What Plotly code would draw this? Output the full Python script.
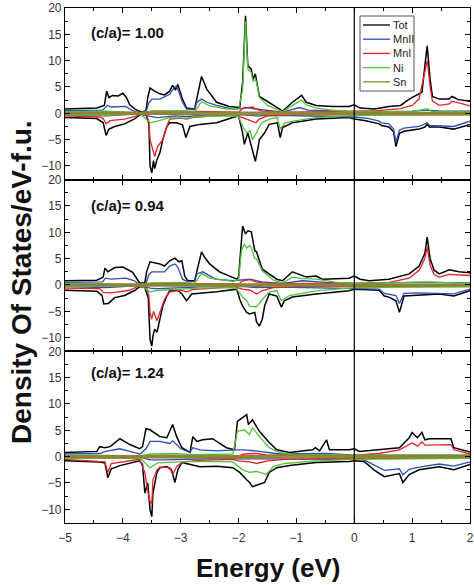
import plotly.graph_objects as go
from plotly.subplots import make_subplots

# ---------------- data (Energy eV, DOS states/eV-f.u.) ----------------
PANEL_LABELS = ["(c/a)= 1.00", "(c/a)= 0.94", "(c/a)= 1.24"]
SPECIES = ["Tot", "MnII", "MnI", "Ni", "Sn"]
COLORS = ["#000000", "#2a4fb5", "#e8202a", "#52c23c", "#8f8434"]
X_TICKS = [-5, -4, -3, -2, -1, 0, 1, 2]
Y_TICKS = [-10, -5, 0, 5, 10, 15, 20]

# ---- panel A : c/a = 1.00 ----
TOT_UP_A = [(-5,0.8),(-4.45,1.0),(-4.32,1.5),(-4.28,4.2),(-4.24,3.0),(-4.18,3.4),(-4.08,3.3),(-4.0,3.8),(-3.94,3.0),(-3.88,1.6),(-3.79,0.8),(-3.68,0.2),(-3.6,0.5),(-3.57,3.0),(-3.53,4.8),(-3.45,4.2),(-3.36,3.7),(-3.28,3.5),(-3.19,4.2),(-3.14,5.3),(-3.09,4.4),(-3.05,5.5),(-2.97,2.7),(-2.9,1.0),(-2.76,0.8),(-2.72,2.7),(-2.64,7.0),(-2.55,4.6),(-2.38,2.1),(-2.16,1.3),(-1.98,1.1),(-1.93,5.9),(-1.88,18.5),(-1.84,9.0),(-1.78,8.4),(-1.75,6.5),(-1.71,7.5),(-1.64,3.2),(-1.47,2.1),(-1.29,0.8),(-1.24,0.4),(-1.07,2.1),(-0.91,3.4),(-0.83,2.1),(-0.66,1.5),(-0.38,1.3),(-0.09,1.3),(0.0,1.6),(0.1,1.0),(0.35,0.8),(0.6,1.3),(0.8,1.5),(0.95,2.7),(1.12,3.6),(1.17,4.0),(1.22,9.0),(1.26,12.8),(1.31,6.5),(1.35,3.2),(1.47,2.7),(1.64,2.7),(1.69,3.2),(1.8,2.6),(2.0,2.3)]
TOT_DN_A = [(-5,-0.8),(-4.45,-1.0),(-4.34,-1.8),(-4.29,-4.2),(-4.24,-3.0),(-4.14,-2.5),(-3.97,-2.0),(-3.79,-1.0),(-3.7,-0.2),(-3.6,-0.3),(-3.55,-2.0),(-3.53,-10.0),(-3.5,-11.3),(-3.47,-9.0),(-3.45,-10.5),(-3.41,-8.8),(-3.36,-7.5),(-3.31,-5.0),(-3.24,-2.5),(-3.19,-1.8),(-3.07,-1.8),(-2.97,-2.2),(-2.91,-4.6),(-2.84,-2.5),(-2.67,-2.1),(-2.38,-1.8),(-2.1,-0.8),(-2.0,-0.5),(-1.93,-3.7),(-1.9,-5.9),(-1.84,-3.7),(-1.81,-5.0),(-1.76,-7.5),(-1.71,-9.1),(-1.67,-6.9),(-1.64,-5.0),(-1.55,-3.7),(-1.47,-2.1),(-1.33,-1.8),(-1.28,-4.6),(-1.24,-2.7),(-1.07,-1.8),(-0.66,-1.1),(-0.09,-0.8),(0.0,-1.1),(0.2,-1.4),(0.43,-2.0),(0.47,-2.3),(0.6,-2.6),(0.68,-3.5),(0.72,-6.3),(0.78,-3.8),(0.86,-3.4),(1.12,-3.0),(1.22,-2.6),(1.26,-2.1),(1.3,-2.6),(1.47,-2.6),(1.72,-3.0),(2.0,-2.1)]
MN2_UP_A = [(-5,0.5),(-4.35,0.6),(-4.27,1.5),(-4.2,1.2),(-3.95,1.3),(-3.85,0.6),(-3.7,0.0),(-3.6,0.3),(-3.55,2.0),(-3.5,2.7),(-3.36,2.7),(-3.19,3.6),(-3.1,5.1),(-3.05,4.6),(-2.97,2.1),(-2.9,0.8),(-2.76,0.8),(-2.72,2.1),(-2.64,2.7),(-2.55,2.1),(-2.38,1.5),(-2.1,0.8),(-1.95,0.9),(-1.88,1.1),(-1.75,0.9),(-1.5,0.5),(-1.25,0.2),(-0.95,1.1),(-0.8,0.6),(-0.3,0.4),(0.0,0.3),(0.5,0.3),(1.0,0.4),(1.26,0.6),(1.5,0.4),(2.0,0.4)]
MN2_DN_A = [(-5,-0.3),(-4.3,-0.5),(-3.7,-0.1),(-3.53,-0.6),(-3.4,-0.8),(-3.1,-0.5),(-2.9,-0.6),(-2.5,-0.3),(-1.9,-0.3),(-1.7,-0.5),(-1.3,-0.4),(-0.5,-0.5),(0.0,-0.7),(0.26,-1.0),(0.43,-1.5),(0.47,-1.8),(0.6,-2.0),(0.68,-3.0),(0.72,-5.5),(0.78,-3.2),(0.86,-2.8),(1.12,-2.5),(1.26,-1.8),(1.3,-2.3),(1.72,-2.5),(2.0,-1.5)]
MN1_UP_A = [(-5,0.2),(-4.3,0.3),(-3.7,0.1),(-3.5,0.4),(-3.0,0.4),(-2.7,0.3),(-2.0,0.2),(-1.93,0.9),(-1.85,1.1),(-1.75,1.2),(-1.7,0.8),(-1.6,0.4),(-1.2,0.2),(-0.5,0.3),(0.0,0.4),(0.4,0.5),(0.8,0.9),(1.0,1.5),(1.12,2.7),(1.22,7.8),(1.26,10.0),(1.31,5.1),(1.35,2.3),(1.47,1.5),(1.64,1.8),(1.69,2.3),(2.0,1.4)]
MN1_DN_A = [(-5,-0.5),(-4.4,-0.7),(-4.34,-1.0),(-4.29,-2.0),(-4.22,-1.4),(-3.97,-1.1),(-3.79,-0.6),(-3.7,-0.1),(-3.6,-0.2),(-3.55,-1.5),(-3.53,-5.0),(-3.5,-6.3),(-3.45,-8.2),(-3.4,-6.3),(-3.31,-5.0),(-3.24,-2.5),(-3.19,-1.1),(-3.0,-0.9),(-2.9,-1.1),(-2.8,-0.8),(-2.3,-0.4),(-2.1,-0.2),(-1.86,-1.1),(-1.7,-1.8),(-1.64,-1.1),(-1.5,-0.5),(-1.0,-0.3),(0.0,-0.3),(2.0,-0.3)]
NI_UP_A = [(-5,0.3),(-4.3,0.4),(-3.7,0.1),(-3.5,0.4),(-3.0,0.5),(-2.76,0.3),(-2.64,2.2),(-2.5,1.4),(-2.2,0.8),(-2.0,0.8),(-1.93,4.5),(-1.88,17.5),(-1.84,8.4),(-1.78,7.8),(-1.75,6.0),(-1.71,6.5),(-1.69,5.9),(-1.64,3.0),(-1.5,1.5),(-1.3,0.5),(-1.24,0.3),(-1.07,1.5),(-0.91,2.5),(-0.83,1.6),(-0.66,1.0),(-0.3,0.5),(0.0,0.3),(1.0,0.3),(1.26,0.9),(1.35,0.3),(2.0,0.3)]
NI_DN_A = [(-5,-0.3),(-4.3,-0.4),(-3.7,-0.1),(-3.53,-1.8),(-3.4,-1.5),(-3.2,-0.8),(-2.9,-0.9),(-2.7,-0.6),(-2.1,-0.5),(-2.0,-0.6),(-1.93,-2.5),(-1.86,-3.7),(-1.8,-3.3),(-1.76,-5.0),(-1.69,-3.7),(-1.6,-1.8),(-1.47,-1.1),(-1.33,-0.8),(-1.28,-3.0),(-1.2,-1.8),(-1.0,-1.4),(-0.66,-0.8),(0.0,-0.4),(2.0,-0.3)]
SN_UP_A = [(-5,0.1),(-3.5,0.15),(-2.6,0.2),(-1.9,0.2),(-1.0,0.15),(0.0,0.1),(1.3,0.15),(2.0,0.1)]
SN_DN_A = [(-5,-0.1),(-3.5,-0.2),(-2.6,-0.15),(-1.9,-0.2),(-1.0,-0.15),(0.0,-0.1),(1.3,-0.1),(2.0,-0.1)]

# ---- panel B : c/a = 0.94 ----
TOT_UP_B = [(-5,0.8),(-4.45,0.9),(-4.34,1.5),(-4.31,3.2),(-4.26,2.5),(-4.14,3.3),(-4.0,3.4),(-3.88,2.8),(-3.83,2.4),(-3.71,0.4),(-3.62,0.4),(-3.59,2.5),(-3.53,4.4),(-3.36,4.0),(-3.28,3.6),(-3.19,4.6),(-3.1,5.1),(-3.03,4.4),(-2.98,4.6),(-2.93,1.7),(-2.88,0.8),(-2.76,0.8),(-2.72,2.5),(-2.64,6.3),(-2.59,5.3),(-2.5,4.0),(-2.33,2.5),(-2.03,1.1),(-2.0,1.5),(-1.95,9.3),(-1.93,11.2),(-1.88,9.7),(-1.84,10.3),(-1.78,10.1),(-1.72,6.5),(-1.69,6.3),(-1.59,3.0),(-1.34,1.1),(-1.24,0.8),(-1.07,2.5),(-0.83,1.5),(-0.66,1.7),(-0.55,1.1),(-0.09,1.3),(0.0,1.7),(0.1,1.1),(0.26,0.8),(0.6,1.1),(0.95,2.1),(1.12,3.6),(1.22,6.0),(1.26,9.1),(1.31,5.0),(1.38,2.8),(1.47,2.1),(1.64,2.9),(1.81,2.5),(2.0,2.3)]
TOT_DN_B = [(-5,-1.0),(-4.45,-1.2),(-4.36,-2.0),(-4.33,-3.6),(-4.25,-3.5),(-4.14,-2.4),(-3.97,-2.0),(-3.79,-1.0),(-3.71,-0.3),(-3.62,-0.5),(-3.56,-2.5),(-3.53,-10.3),(-3.5,-11.6),(-3.48,-9.7),(-3.45,-8.4),(-3.41,-9.0),(-3.36,-6.5),(-3.31,-4.0),(-3.24,-2.1),(-3.19,-1.1),(-3.05,-1.0),(-2.98,-1.7),(-2.9,-3.0),(-2.81,-1.7),(-2.38,-1.3),(-2.03,-0.8),(-1.98,-2.7),(-1.93,-4.0),(-1.86,-5.2),(-1.81,-5.5),(-1.72,-5.2),(-1.69,-7.0),(-1.64,-7.8),(-1.59,-6.5),(-1.55,-4.0),(-1.47,-1.7),(-1.34,-2.1),(-1.26,-4.2),(-1.21,-3.0),(-1.07,-2.3),(-0.66,-1.7),(-0.09,-1.1),(0.0,-0.8),(0.3,-0.9),(0.43,-1.0),(0.52,-2.1),(0.6,-2.3),(0.72,-3.0),(0.78,-5.2),(0.86,-2.1),(1.12,-1.9),(1.47,-1.7),(1.72,-2.1),(2.0,-1.1)]
MN2_UP_B = [(-5,0.5),(-4.35,0.6),(-4.3,1.3),(-4.2,1.1),(-3.95,1.3),(-3.8,0.8),(-3.7,0.0),(-3.6,0.3),(-3.55,2.0),(-3.5,2.5),(-3.28,2.5),(-3.19,3.6),(-3.1,4.0),(-3.05,3.4),(-2.97,1.1),(-2.88,0.6),(-2.76,0.7),(-2.72,2.1),(-2.62,2.5),(-2.4,1.1),(-2.1,0.8),(-1.93,1.0),(-1.8,1.1),(-1.6,0.6),(-1.25,0.3),(-0.9,0.8),(-0.5,0.5),(0.0,0.3),(1.26,0.5),(2.0,0.4)]
MN2_DN_B = [(-5,-0.3),(-4.3,-0.5),(-3.7,-0.1),(-3.53,-0.6),(-3.4,-0.7),(-3.0,-0.5),(-2.5,-0.3),(-1.9,-0.3),(-1.7,-0.5),(-1.3,-0.4),(0.0,-0.6),(0.43,-0.8),(0.52,-1.6),(0.72,-2.0),(0.78,-3.5),(0.86,-1.6),(1.12,-1.5),(1.72,-1.7),(2.0,-0.8)]
MN1_UP_B = [(-5,0.2),(-3.7,0.1),(-3.5,0.3),(-2.5,0.3),(-2.0,0.2),(-1.93,0.8),(-1.8,1.0),(-1.7,0.6),(-1.5,0.3),(0.0,0.3),(0.6,0.5),(0.95,1.3),(1.12,2.8),(1.22,5.0),(1.26,7.2),(1.31,3.8),(1.38,2.0),(1.47,1.5),(1.64,2.0),(2.0,1.8)]
MN1_DN_B = [(-5,-0.6),(-4.4,-0.7),(-4.34,-1.4),(-4.2,-1.5),(-3.88,-1.0),(-3.71,-0.1),(-3.6,-0.2),(-3.55,-2.0),(-3.53,-5.2),(-3.5,-6.5),(-3.47,-5.0),(-3.41,-6.8),(-3.36,-5.2),(-3.28,-2.7),(-3.19,-1.3),(-3.0,-1.0),(-2.9,-1.3),(-2.8,-0.9),(-2.3,-0.5),(-2.1,-0.3),(-1.93,-0.8),(-1.8,-1.0),(-1.69,-1.7),(-1.6,-1.1),(-1.4,-0.5),(-1.0,-0.3),(2.0,-0.3)]
NI_UP_B = [(-5,0.3),(-3.7,0.1),(-3.5,0.4),(-3.0,0.5),(-2.76,0.3),(-2.64,2.2),(-2.5,1.3),(-2.1,0.7),(-2.0,1.0),(-1.95,6.5),(-1.9,7.8),(-1.86,7.0),(-1.81,7.5),(-1.78,7.0),(-1.72,5.0),(-1.69,5.0),(-1.59,2.7),(-1.4,0.9),(-1.24,0.4),(-1.07,1.5),(-0.9,1.2),(-0.66,1.1),(-0.3,0.5),(0.0,0.3),(1.26,0.6),(2.0,0.3)]
NI_DN_B = [(-5,-0.3),(-3.7,-0.1),(-3.53,-1.3),(-3.4,-1.0),(-3.0,-0.8),(-2.7,-0.6),(-2.05,-0.5),(-1.93,-2.3),(-1.86,-3.0),(-1.81,-4.0),(-1.69,-4.2),(-1.6,-2.9),(-1.47,-1.3),(-1.34,-1.1),(-1.26,-3.0),(-1.12,-2.0),(-0.66,-1.1),(0.0,-0.5),(2.0,-0.3)]
SN_UP_B = [(-5,0.1),(-3.5,0.15),(-2.6,0.2),(-1.9,0.2),(-1.0,0.15),(0.0,0.1),(1.3,0.15),(2.0,0.1)]
SN_DN_B = [(-5,-0.1),(-3.5,-0.2),(-2.6,-0.15),(-1.9,-0.2),(-1.0,-0.15),(0.0,-0.1),(1.3,-0.1),(2.0,-0.1)]

# ---- panel C : c/a = 1.24 ----
TOT_UP_C = [(-5,0.8),(-4.45,1.0),(-4.4,1.9),(-4.31,1.7),(-4.22,1.9),(-4.05,3.4),(-3.88,2.3),(-3.71,1.5),(-3.66,1.9),(-3.6,5.3),(-3.53,5.1),(-3.36,3.8),(-3.24,3.6),(-3.14,6.1),(-3.07,3.8),(-2.98,1.7),(-2.84,0.8),(-2.79,3.8),(-2.72,2.9),(-2.62,3.2),(-2.45,3.4),(-2.38,2.9),(-2.21,1.7),(-2.07,1.3),(-2.02,6.7),(-1.93,7.4),(-1.86,8.0),(-1.83,6.1),(-1.76,7.0),(-1.71,6.1),(-1.64,4.8),(-1.47,2.7),(-1.34,1.3),(-1.12,0.8),(-0.72,1.3),(-0.67,1.7),(-0.6,1.1),(-0.48,3.2),(-0.43,1.3),(-0.09,1.3),(0.0,1.5),(0.09,1.0),(0.43,1.3),(0.78,1.7),(0.95,3.6),(1.0,4.6),(1.09,3.6),(1.17,4.6),(1.22,3.2),(1.3,3.4),(1.47,3.4),(1.67,3.4),(1.72,1.7),(2.0,0.9)]
TOT_DN_C = [(-5,-0.8),(-4.4,-1.0),(-4.31,-1.2),(-4.26,-4.0),(-4.2,-2.3),(-4.05,-1.7),(-3.71,-0.8),(-3.66,-1.5),(-3.62,-6.9),(-3.57,-5.0),(-3.53,-10.1),(-3.5,-11.4),(-3.48,-6.9),(-3.41,-3.0),(-3.36,-2.1),(-3.24,-1.9),(-3.16,-2.5),(-3.1,-4.9),(-3.05,-2.5),(-2.98,-1.1),(-2.67,-1.9),(-2.38,-1.8),(-2.1,-2.1),(-1.98,-3.0),(-1.86,-4.4),(-1.81,-4.9),(-1.76,-5.7),(-1.64,-5.3),(-1.55,-4.9),(-1.47,-3.0),(-1.34,-2.1),(-1.12,-1.7),(-0.66,-1.1),(-0.09,-0.9),(0.0,-0.8),(0.17,-0.9),(0.34,-2.5),(0.52,-3.8),(0.69,-3.4),(0.78,-3.2),(0.84,-4.9),(0.95,-3.4),(1.12,-2.5),(1.47,-1.9),(1.72,-2.5),(2.0,-1.5)]
MN2_UP_C = [(-5,0.5),(-4.4,0.6),(-4.3,1.0),(-4.05,1.5),(-3.88,1.0),(-3.7,0.5),(-3.6,1.5),(-3.53,2.9),(-3.36,2.9),(-3.19,2.5),(-3.14,3.0),(-3.0,1.5),(-2.84,0.8),(-2.79,1.7),(-2.67,1.3),(-2.38,1.1),(-2.03,1.3),(-1.9,1.3),(-1.64,1.0),(-1.3,0.5),(-0.48,0.6),(0.0,0.3),(2.0,0.3)]
MN2_DN_C = [(-5,-0.3),(-3.7,-0.1),(-3.53,-0.6),(-3.3,-0.6),(-2.5,-0.4),(-1.9,-0.4),(-1.5,-0.4),(0.0,-0.5),(0.17,-0.6),(0.34,-1.5),(0.52,-2.6),(0.69,-2.4),(0.78,-2.3),(0.84,-3.5),(0.95,-2.4),(1.12,-2.0),(1.47,-1.4),(1.72,-1.8),(2.0,-1.0)]
MN1_UP_C = [(-5,0.2),(-3.7,0.1),(-3.5,0.3),(-2.0,0.2),(-1.9,0.5),(-1.7,0.6),(-1.5,0.3),(0.0,0.3),(0.43,0.6),(0.78,1.3),(0.95,2.3),(1.0,2.6),(1.09,2.0),(1.17,2.8),(1.22,2.2),(1.47,2.2),(1.67,2.3),(1.72,1.3),(2.0,0.5)]
MN1_DN_C = [(-5,-0.5),(-4.31,-1.0),(-4.26,-3.0),(-4.2,-1.3),(-3.71,-0.5),(-3.62,-3.0),(-3.57,-6.5),(-3.53,-8.5),(-3.5,-9.0),(-3.48,-4.4),(-3.41,-2.5),(-3.36,-2.0),(-3.19,-2.1),(-3.14,-3.4),(-3.07,-1.9),(-2.97,-1.0),(-2.67,-0.7),(-2.1,-0.5),(-2.0,-0.8),(-1.81,-1.0),(-1.69,-1.3),(-1.5,-0.8),(-1.2,-0.5),(0.0,-0.3),(2.0,-0.3)]
NI_UP_C = [(-5,0.3),(-3.7,0.2),(-3.5,0.5),(-3.1,0.6),(-2.8,0.4),(-2.1,0.5),(-2.02,4.8),(-1.9,5.1),(-1.81,4.2),(-1.76,5.5),(-1.64,3.8),(-1.47,1.7),(-1.3,0.8),(-1.0,0.4),(0.0,0.3),(2.0,0.3)]
NI_DN_C = [(-5,-0.3),(-3.7,-0.3),(-3.53,-2.1),(-3.4,-1.2),(-3.0,-1.0),(-2.7,-0.9),(-2.1,-1.0),(-1.93,-2.5),(-1.81,-3.0),(-1.69,-2.8),(-1.52,-3.4),(-1.4,-1.9),(-1.2,-1.3),(-0.66,-0.8),(0.0,-0.5),(2.0,-0.3)]
SN_UP_C = [(-5,0.1),(-3.5,0.15),(-2.6,0.2),(-1.9,0.2),(-1.0,0.15),(0.0,0.1),(1.3,0.15),(2.0,0.1)]
SN_DN_C = [(-5,-0.1),(-3.5,-0.2),(-2.6,-0.15),(-1.9,-0.2),(-1.0,-0.15),(0.0,-0.1),(1.3,-0.1),(2.0,-0.1)]

PANELS = [
    [(TOT_UP_A, TOT_DN_A), (MN2_UP_A, MN2_DN_A), (MN1_UP_A, MN1_DN_A), (NI_UP_A, NI_DN_A), (SN_UP_A, SN_DN_A)],
    [(TOT_UP_B, TOT_DN_B), (MN2_UP_B, MN2_DN_B), (MN1_UP_B, MN1_DN_B), (NI_UP_B, NI_DN_B), (SN_UP_B, SN_DN_B)],
    [(TOT_UP_C, TOT_DN_C), (MN2_UP_C, MN2_DN_C), (MN1_UP_C, MN1_DN_C), (NI_UP_C, NI_DN_C), (SN_UP_C, SN_DN_C)],
]
WIDTHS = [1.5, 1.3, 1.3, 1.3, 2.0]

# ---------------- figure ----------------
W, H = 474, 585
ML, MR, MT, MB = 65, 4, 8, 62
PW, PH = W - ML - MR, H - MT - MB

def px_x(px):
    return (px - ML) / PW

def px_y(py):
    return (H - MB - py) / PH

fig = make_subplots(rows=3, cols=1, shared_xaxes=True, vertical_spacing=0)

for r, panel in enumerate(PANELS, start=1):
    for name, color, lw, (up, dn) in zip(SPECIES, COLORS, WIDTHS, panel):
        for curve in (up, dn):
            fig.add_trace(go.Scatter(
                x=[p[0] for p in curve], y=[p[1] for p in curve],
                mode="lines", line=dict(color=color, width=lw),
                name=name, showlegend=False, hoverinfo="skip"), row=r, col=1)

tickfont = dict(family="Liberation Sans, Arial, sans-serif", size=12, color="#333333")
for r in range(1, 4):
    fig.update_yaxes(range=[-12.6, 20], tickvals=Y_TICKS, ticks="inside", ticklen=5,
                     tickcolor="black", showline=True, linecolor="black", linewidth=1.2,
                     mirror="ticks", showgrid=False, zeroline=False, tickfont=tickfont,
                     automargin=False, ticklabeloverflow="allow",
                     minor=dict(dtick=2.5, tick0=0, ticks="inside", ticklen=3, tickcolor="black"),
                     row=r, col=1)
    fig.update_xaxes(range=[-5, 2], tickvals=X_TICKS, ticks="inside", ticklen=5,
                     tickcolor="black", showline=True, linecolor="black", linewidth=1.2,
                     mirror="ticks", showgrid=False, zeroline=False, tickfont=tickfont,
                     ticklabelstandoff=3, automargin=False, ticklabeloverflow="allow",
                     minor=dict(dtick=0.5, tick0=0, ticks="inside", ticklen=3, tickcolor="black"),
                     row=r, col=1)

fig.add_vline(x=0, line_color="black", line_width=1.2)

bold = dict(family="Liberation Sans, Arial, sans-serif", color="#111111")
annotations = []
for lab, py in zip(PANEL_LABELS, [33, 205, 372]):
    annotations.append(dict(text=f"<b>{lab}</b>", x=px_x(89), y=px_y(py), xref="paper", yref="paper",
                            xanchor="left", yanchor="middle", showarrow=False,
                            font=dict(size=15, **bold)))
annotations.append(dict(text="<b>Density Of States/eV-f.u.</b>", x=px_x(21), y=px_y(282),
                        xref="paper", yref="paper", textangle=-90, showarrow=False,
                        xanchor="center", yanchor="middle", font=dict(size=28, **bold)))
annotations.append(dict(text="<b>Energy (eV)</b>", x=px_x(268), y=px_y(568),
                        xref="paper", yref="paper", showarrow=False,
                        xanchor="center", yanchor="middle", font=dict(size=26, **bold)))

# legend box (drawn manually, Origin style)
shapes = [dict(type="rect", xref="paper", yref="paper", x0=px_x(360), x1=px_x(414),
               y0=px_y(91), y1=px_y(16), line=dict(color="#555555", width=1), fillcolor="white")]
for i, (name, color) in enumerate(zip(SPECIES, COLORS)):
    py = 25 + i * 14.2
    shapes.append(dict(type="line", xref="paper", yref="paper", x0=px_x(363), x1=px_x(390),
                       y0=px_y(py), y1=px_y(py), line=dict(color=color, width=1.3)))
    annotations.append(dict(text=name, x=px_x(391), y=px_y(py), xref="paper", yref="paper",
                            xanchor="left", yanchor="middle", showarrow=False,
                            font=dict(size=11, family="Liberation Sans, Arial, sans-serif", color="#222222")))

fig.update_layout(width=W, height=H, margin=dict(l=ML, r=MR, t=MT, b=MB, autoexpand=False),
                  paper_bgcolor="white", plot_bgcolor="white", showlegend=False,
                  annotations=list(fig.layout.annotations) + annotations,
                  shapes=list(fig.layout.shapes) + shapes)

# the page body otherwise adds an 8px margin around the figure
fig.write_html("out.html", config={"displayModeBar": False},
               post_script="document.body.style.margin='0';")
